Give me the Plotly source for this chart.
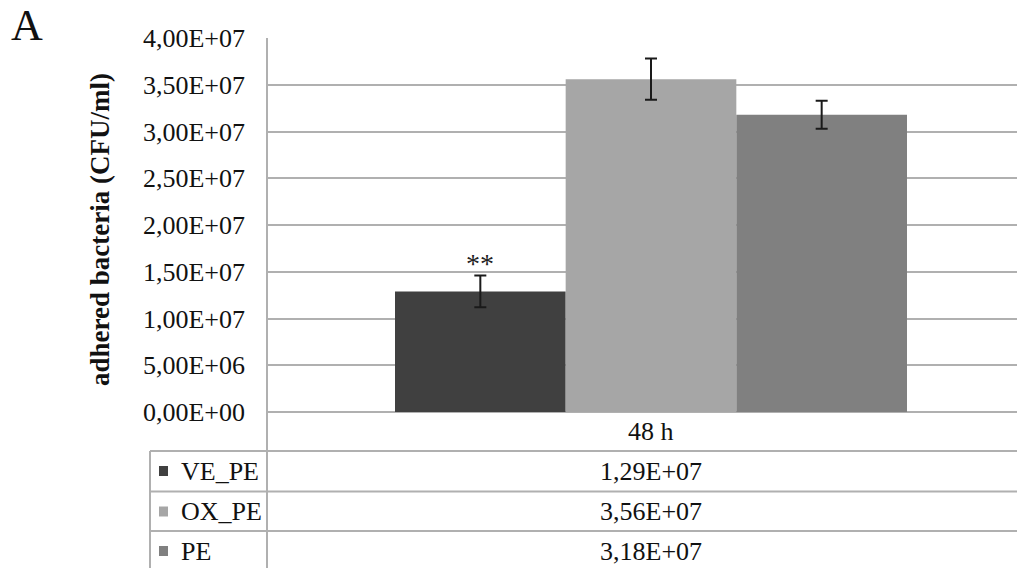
import plotly.graph_objects as go

# ---- data ----
category = ["48 h"]
series_names = ["VE_PE", "OX_PE", "PE"]
series_values = [1.29e7, 3.56e7, 3.18e7]
series_errors = [1.7e6, 2.2e6, 1.5e6]
series_colors = ["#404040", "#a6a6a6", "#808080"]
value_labels = ["1,29E+07", "3,56E+07", "3,18E+07"]
significance = ["**", "", ""]
y_tickvals = [0, 5e6, 1e7, 1.5e7, 2e7, 2.5e7, 3e7, 3.5e7, 4e7]
y_ticktext = ["0,00E+00", "5,00E+06", "1,00E+07", "1,50E+07", "2,00E+07",
              "2,50E+07", "3,00E+07", "3,50E+07", "4,00E+07"]
y_title = "adhered bacteria (CFU/ml)"
panel_label = "A"

# ---- layout geometry (reference pixels; page body adds an 8px margin) ----
OFF = 8
W, H = 1025, 568          # figure runs past the window edge, like the cropped reference
PL, PR, PT, PB = 267 - OFF, 1025, 38 - OFF, 412 - OFF
GRID = "#b0b0b0"
FONT = "Liberation Serif"
FS = 26


def px_x(p):
    return (p - OFF - PL) / (PR - PL)


def px_y(p):
    return (PB - (p - OFF)) / (PB - PT)


# bar group in reference spans 395..907 px -> group width in axis units
unit_px = PR - PL
bargap = 1 - (907 - 395) / unit_px

fig = go.Figure()
for name, v, e, c in zip(series_names, series_values, series_errors, series_colors):
    fig.add_trace(go.Bar(
        name=name, x=category, y=[v], marker=dict(color=c, line=dict(width=0)),
        error_y=dict(type="data", array=[e], visible=True, color="#1a1a1a",
                     thickness=2, width=6),
        showlegend=False,
    ))

bar_w = (1 - bargap) / len(series_names)
annotations = []
# significance marks
for i, (s, v, e) in enumerate(zip(significance, series_values, series_errors)):
    if s:
        annotations.append(dict(
            x=(i - (len(series_names) - 1) / 2) * bar_w, y=v + e + 1.25e6,
            xref="x", yref="y", text=s, showarrow=False, yanchor="middle",
            font=dict(family=FONT, size=FS + 2, color="#222222")))

# table: category header row
row_tops = [412, 451, 491.5, 531]
row_h = 40
annotations.append(dict(x=0, y=px_y(431.5), xref="x", yref="paper", text=category[0],
                        showarrow=False, yanchor="middle",
                        font=dict(family=FONT, size=FS, color="#111111")))
shapes = []
for i, (name, lab, c) in enumerate(zip(series_names, value_labels, series_colors)):
    cy = row_tops[i + 1] + row_h / 2
    annotations.append(dict(x=0, y=px_y(cy), xref="x", yref="paper", text=lab,
                            showarrow=False, yanchor="middle",
                            font=dict(family=FONT, size=FS, color="#111111")))
    annotations.append(dict(x=px_x(179), y=px_y(cy), xref="paper", yref="paper", text=name,
                            showarrow=False, xanchor="left", yanchor="middle",
                            font=dict(family=FONT, size=FS, color="#111111")))
    shapes.append(dict(type="rect", xref="paper", yref="paper",
                       x0=px_x(159), x1=px_x(168), y0=px_y(cy - 5), y1=px_y(cy + 5),
                       fillcolor=c, line=dict(width=0)))

# table lines
shapes.append(dict(type="line", xref="paper", yref="paper", x0=0, x1=0,
                   y0=1, y1=px_y(580), line=dict(color=GRID, width=2)))
shapes.append(dict(type="line", xref="paper", yref="paper", x0=px_x(150), x1=px_x(150),
                   y0=px_y(row_tops[1]), y1=px_y(580), line=dict(color=GRID, width=2)))
for yt in row_tops[1:]:
    shapes.append(dict(type="line", xref="paper", yref="paper", x0=px_x(150), x1=1.0,
                       y0=px_y(yt), y1=px_y(yt), line=dict(color=GRID, width=2)))

# axis title and panel label
annotations.append(dict(x=px_x(100), y=px_y(230), xref="paper", yref="paper",
                        text="<b>" + y_title + "</b>", textangle=-90, showarrow=False,
                        xanchor="center", yanchor="middle",
                        font=dict(family=FONT, size=27, color="#111111")))
annotations.append(dict(x=px_x(27), y=px_y(25), xref="paper", yref="paper",
                        text=panel_label, showarrow=False, xanchor="center", yanchor="middle",
                        font=dict(family=FONT, size=44, color="#111111")))

r0 = -(651 - OFF - PL) / (PR - PL)
fig.update_layout(
    width=W, height=H, autosize=False,
    margin=dict(l=PL, r=W - PR, t=PT, b=H - PB, pad=0),
    paper_bgcolor="white", plot_bgcolor="white",
    barmode="group", bargap=bargap, bargroupgap=0,
    xaxis=dict(range=[r0, r0 + 1], showticklabels=False, showgrid=False,
               zeroline=False, showline=False, ticks=""),
    yaxis=dict(range=[0, 4e7], tickvals=y_tickvals, ticktext=y_ticktext,
               showgrid=True, gridcolor=GRID, gridwidth=2, zeroline=True,
               zerolinecolor=GRID, zerolinewidth=2, showline=False, ticks="",
               ticklabelstandoff=21,
               tickfont=dict(family=FONT, size=FS, color="#111111")),
    annotations=annotations, shapes=shapes,
)
fig.write_html("out.html")
